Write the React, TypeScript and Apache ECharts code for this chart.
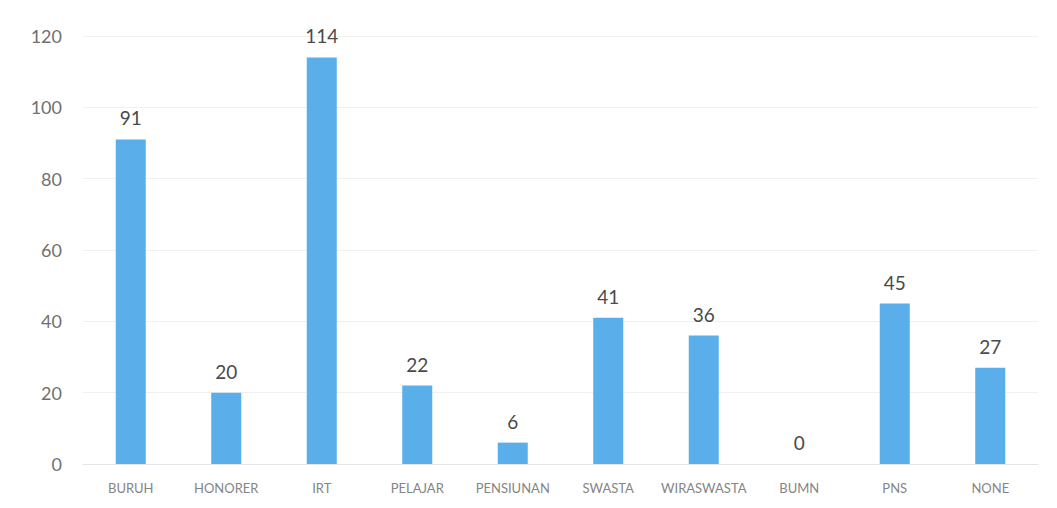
import React, { useEffect, useRef } from "react";
import * as echarts from "echarts";

const categories = ["BURUH", "HONORER", "IRT", "PELAJAR", "PENSIUNAN", "SWASTA", "WIRASWASTA", "BUMN", "PNS", "NONE"];
const values = [91, 20, 114, 22, 6, 41, 36, 0, 45, 27];

export default function App() {
  const ref = useRef<HTMLDivElement>(null);
  useEffect(() => {
    const chart = echarts.init(ref.current!, null, { renderer: "svg" });
    chart.setOption({
      animation: false,
      backgroundColor: "#ffffff",
      grid: { left: 83, right: 19, top: 36, bottom: 44 },
      xAxis: {
        type: "category",
        data: categories,
        axisLine: { lineStyle: { color: "#e4e4e4" } },
        axisTick: { show: false },
        axisLabel: { interval: 0, color: "#858585", fontSize: 13, fontFamily: "Lato", margin: 17 },
      },
      yAxis: {
        type: "value",
        min: 0,
        max: 120,
        interval: 20,
        axisLine: { show: false },
        axisTick: { show: false },
        splitLine: { lineStyle: { color: "#f0f0f0" } },
        axisLabel: { color: "#707070", fontSize: 18, fontFamily: "Lato", margin: 21 },
      },
      series: [
        {
          type: "bar",
          data: values,
          barWidth: 30,
          itemStyle: { color: "#5aaeea" },
          label: {
            show: true,
            position: "top",
            distance: 12,
            color: "#4a4a4a",
            fontSize: 19,
            fontFamily: "Lato",
          },
        },
      ],
    });
    return () => chart.dispose();
  }, []);
  return (
    <div
      ref={ref}
      style={{ position: "fixed", left: 0, top: 0, width: 1057, height: 508, background: "#fff" }}
    />
  );
}
